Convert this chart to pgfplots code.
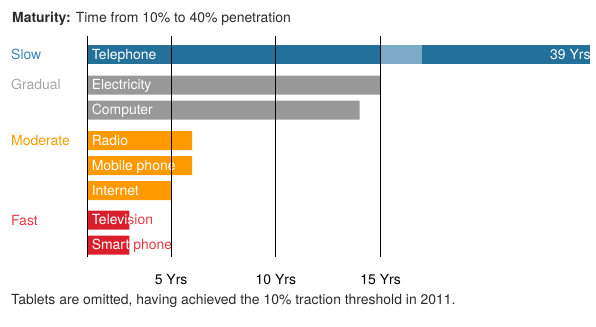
\documentclass[border=0pt]{standalone}
\usepackage{pgfplots}
\pgfplotsset{compat=1.18}
\usepackage{fontspec}
\setmainfont{TeX Gyre Heros}
\definecolor{teldark}{HTML}{23709A}
\definecolor{tellight}{HTML}{7AAAC6}
\definecolor{grbar}{HTML}{999999}
\definecolor{orbar}{HTML}{FF9900}
\definecolor{rdbar}{HTML}{DA1F2B}
\definecolor{slowc}{HTML}{3A86B6}
\definecolor{gradc}{HTML}{A6A6A6}
\definecolor{modc}{HTML}{FF9A00}
\definecolor{fastc}{HTML}{E63A42}
\definecolor{txt}{HTML}{2A2A2A}
\newcommand{\fs}{\fontsize{14}{16}\selectfont}
\begin{document}
\begin{tikzpicture}
\useasboundingbox (0bp,0bp) rectangle (596bp,-327bp);
\node[anchor=base west, inner sep=0, font=\fs, text=txt] at (12bp,-22.3bp) {\textbf{Maturity:} Time from 10\% to 40\% penetration};
\node[anchor=base west, inner sep=0, font=\fs, text=slowc] at (11bp,-59bp) {Slow};
\node[anchor=base west, inner sep=0, font=\fs, text=gradc] at (11bp,-89.5bp) {Gradual};
\node[anchor=base west, inner sep=0, font=\fs, text=modc] at (11bp,-145bp) {Moderate};
\node[anchor=base west, inner sep=0, font=\fs, text=fastc] at (11bp,-225bp) {Fast};
\node[anchor=base west, inner sep=0, font=\fs, text=txt] at (11bp,-304.5bp) {Tablets are omitted, having achieved the 10\% traction threshold in 2011.};
\begin{axis}[
  at={(87.4bp,-36bp)}, anchor=north west,
  scale only axis, width=502.6bp, height=221bp,
  xmin=1, xmax=25, ymin=0, ymax=8.84, y dir=reverse,
  xbar, bar width=0.76, /pgf/bar shift=0pt,
  hide y axis,
  axis line style={draw=none},
  x axis line style={draw=none},
  major tick length=0,
  xtick={1,5,10,15}, xticklabels={,5 Yrs,10 Yrs,15 Yrs},
  xticklabel style={font=\fs, text=black, anchor=base, yshift=-27bp},
  xmajorgrids, grid style={black, line width=1.1bp},
  axis on top,
  clip=false,
]
\addplot[fill=teldark, draw=none] coordinates {(25,0.74)};
\addplot[fill=tellight, draw=none] coordinates {(17,0.74)};
\addplot[fill=teldark, draw=none] coordinates {(15,0.74)};
\addplot[fill=grbar, draw=none] coordinates {(15,1.96) (14,2.96)};
\addplot[fill=orbar, draw=none] coordinates {(6,4.18) (6,5.18) (5,6.18)};
\addplot[fill=rdbar, draw=none] coordinates {(3,7.36) (3,8.36)};
\begin{scope}[every node/.style={anchor=base west, inner sep=0, font=\fs, xshift=4.2bp, yshift=-4.9bp, text=white}]
\node at (axis cs:1,0.74) {Telephone};
\node at (axis cs:1,1.96) {Electricity};
\node at (axis cs:1,2.96) {Computer};
\node at (axis cs:1,4.18) {Radio};
\node at (axis cs:1,5.18) {Mobile phone};
\node at (axis cs:1,6.18) {Internet};
\node[text=fastc] at (axis cs:1,7.36) {Television};
\node[text=fastc] at (axis cs:1,8.36) {Smart phone};
\begin{scope}
\clip (axis cs:1,6.98) rectangle (axis cs:3,8.74);
\node at (axis cs:1,7.36) {Television};
\node at (axis cs:1,8.36) {Smart phone};
\end{scope}
\node[anchor=base east, xshift=-3.5bp] at (axis cs:25,0.74) {39 Yrs};
\end{scope}
\end{axis}
\end{tikzpicture}
\end{document}
